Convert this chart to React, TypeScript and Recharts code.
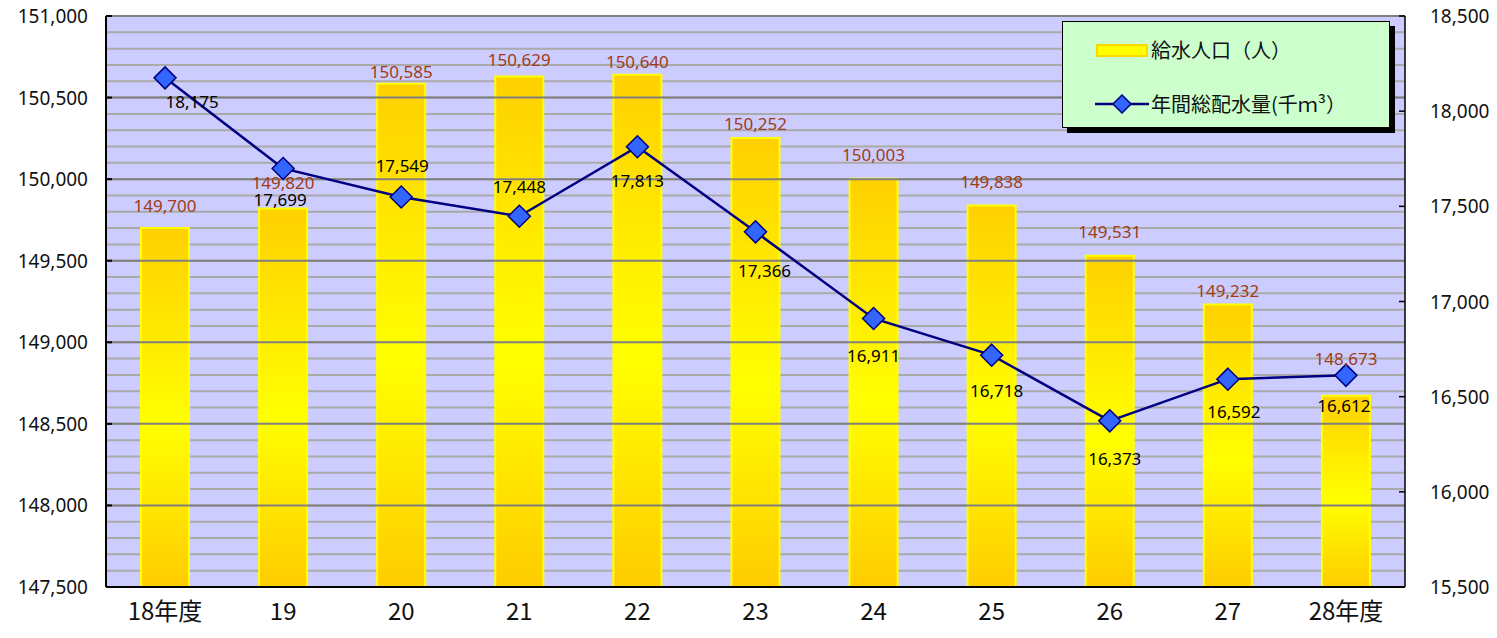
import React from 'react';
import { ComposedChart, Bar, Line, XAxis, YAxis, CartesianGrid, LabelList, ReferenceLine } from 'recharts';

const YEARS = ['18年度', '19', '20', '21', '22', '23', '24', '25', '26', '27', '28年度'];
const POPULATION = [149700, 149820, 150585, 150629, 150640, 150252, 150003, 149838, 149531, 149232, 148673];
const WATER = [18175, 17699, 17549, 17448, 17813, 17366, 16911, 16718, 16373, 16592, 16612];

const LEFT_TICKS = [147500, 148000, 148500, 149000, 149500, 150000, 150500, 151000];
const RIGHT_TICKS = [15500, 16000, 16500, 17000, 17500, 18000, 18500];

// label placement (pixels), as in the original sheet
const POP_LABEL_GAP = [16, 20, 6, 11, 7, 8, 18, 18, 18, 7, 31];
const WATER_LABEL_DX = [27, -3, 1, 0, 0, 9, 0, 5, 5, 6, -2];
const WATER_LABEL_DY = [30, 38, -25, -23, 40, 45, 44, 42, 44, 39, 37];

const data = YEARS.map((year, i) => ({ year, population: POPULATION[i], water: WATER[i] }));

// minor grid lines every 100 on the left axis
const GRID_STEP = 100;
const gridValues: number[] = [];
for (let v = LEFT_TICKS[0]; v <= LEFT_TICKS[LEFT_TICKS.length - 1]; v += GRID_STEP) gridValues.push(v);

const FONT = '"Noto Sans CJK JP", "Noto Sans", sans-serif';
const NUM_FONT = '"Noto Sans", sans-serif';
const fmt = (v: number) => v.toLocaleString('en-US');

const LeftTick = (props: any) => {
  const { x, y, payload } = props;
  if (payload.value % 500 !== 0) return null;
  return (
    <g>
      <line x1={x + 18} x2={x + 24} y1={y} y2={y} stroke="#000" strokeWidth={2} />
      <text x={x} y={y} dy={7} textAnchor="end" fontSize={19} fill="#111" fontFamily={NUM_FONT}>{fmt(payload.value)}</text>
    </g>
  );
};

const RightTick = (props: any) => {
  const { x, y, payload } = props;
  return (
    <g>
      <line x1={x - 31} x2={x - 25} y1={y} y2={y} stroke="#000" strokeWidth={1.5} />
      <text x={x} y={y} dy={7} textAnchor="start" fontSize={19} fill="#111" fontFamily={NUM_FONT}>{fmt(payload.value)}</text>
    </g>
  );
};

const XTick = (props: any) => {
  const { x, y, payload } = props;
  return (
    <text x={x} y={y} dy={25} textAnchor="middle" fontSize={24} fill="#111" fontFamily={FONT}>{payload.value}</text>
  );
};

const Diamond = (props: any) => {
  const { cx, cy } = props;
  if (cx == null || cy == null) return null;
  const r = 11;
  return (
    <polygon
      points={`${cx},${cy - r} ${cx + r},${cy} ${cx},${cy + r} ${cx - r},${cy}`}
      fill="#3366FF"
      stroke="#000080"
      strokeWidth={1.5}
    />
  );
};

const PopLabel = (props: any) => {
  const { x, y, width, value, index } = props;
  return (
    <text x={x + width / 2} y={y - POP_LABEL_GAP[index]} textAnchor="middle" fontSize={17} fill="#A03C16" fontFamily={NUM_FONT}>{fmt(value)}</text>
  );
};

const WaterLabel = (props: any) => {
  const { x, y, value, index } = props;
  return (
    <text x={x + WATER_LABEL_DX[index]} y={y + WATER_LABEL_DY[index]} textAnchor="middle" fontSize={17} fill="#000" fontFamily={NUM_FONT}>{fmt(value)}</text>
  );
};

const LegendBox = () => (
  <div style={{ position: 'absolute', left: 1062, top: 21, width: 328, height: 107, fontFamily: FONT }}>
    <div style={{ position: 'absolute', left: 5, top: 5, width: 328, height: 107, background: '#000' }} />
    <div style={{ position: 'absolute', left: 0, top: 0, width: 326, height: 105, background: '#CCFFCC', border: '1px solid #000' }}>
      <div style={{ position: 'absolute', left: 33, top: 22, width: 52, height: 13, background: '#FFFF00', boxShadow: 'inset 0 0 0 2px #FFD700' }} />
      <div style={{ position: 'absolute', left: 88, top: 13, fontSize: 20, color: '#111', whiteSpace: 'nowrap' }}>給水人口（人）</div>
      <svg style={{ position: 'absolute', left: 30, top: 70 }} width={60} height={24}>
        <line x1={2} x2={56} y1={12} y2={12} stroke="#000080" strokeWidth={2.5} />
        <polygon points="29,3 38,12 29,21 20,12" fill="#3366FF" stroke="#000080" strokeWidth={1.5} />
      </svg>
      <div style={{ position: 'absolute', left: 88, top: 67, fontSize: 20, color: '#111', whiteSpace: 'nowrap' }}>年間総配水量(千ｍ³）</div>
    </div>
  </div>
);

export default function App() {
  return (
    <div style={{ position: 'absolute', left: 0, top: 0, width: 1497, height: 638, background: '#fff' }}>
      <ComposedChart width={1497} height={638} data={data} margin={{ top: 16, right: 0, bottom: 0, left: 0 }}>
        <defs>
          <linearGradient id="barGrad" x1="0" y1="0" x2="0" y2="1">
            <stop offset="0%" stopColor="#FFD000" />
            <stop offset="55%" stopColor="#FFFF00" />
            <stop offset="100%" stopColor="#FFCC00" />
          </linearGradient>
        </defs>
        <CartesianGrid
          yAxisId="left"
          vertical={false}
          fill="#CCCCFF"
          fillOpacity={1}
          stroke="#AAAAAA"
          strokeWidth={2}
        />
        <XAxis
          dataKey="year"
          height={51}
          tick={<XTick />}
          tickLine={false}
          axisLine={{ stroke: '#000', strokeWidth: 2 }}
        />
        <YAxis
          yAxisId="left"
          orientation="left"
          width={106}
          domain={[147500, 151000]}
          ticks={gridValues}
          interval={0}
          tick={<LeftTick />}
          tickLine={false}
          tickSize={0}
          tickMargin={18}
          axisLine={{ stroke: '#000', strokeWidth: 2 }}
          allowDataOverflow
        />
        <YAxis
          yAxisId="right"
          orientation="right"
          width={92}
          domain={[15500, 18500]}
          ticks={RIGHT_TICKS}
          interval={0}
          tick={<RightTick />}
          tickLine={false}
          tickSize={0}
          tickMargin={25}
          axisLine={{ stroke: '#000', strokeWidth: 1.5 }}
          allowDataOverflow
        />
        {LEFT_TICKS.map((v) => (
          <ReferenceLine key={v} yAxisId="left" y={v} stroke="#808080" strokeWidth={2} />
        ))}
        <Bar
          yAxisId="left"
          dataKey="population"
          barSize={48}
          fill="url(#barGrad)"
          stroke="#FFFF00"
          strokeWidth={2}
          isAnimationActive={false}
        >
          <LabelList dataKey="population" content={<PopLabel />} />
        </Bar>
        <Line
          yAxisId="right"
          dataKey="water"
          stroke="#000080"
          strokeWidth={2.5}
          dot={<Diamond />}
          activeDot={false}
          isAnimationActive={false}
        >
          <LabelList dataKey="water" content={<WaterLabel />} />
        </Line>
      </ComposedChart>
      <LegendBox />
    </div>
  );
}
